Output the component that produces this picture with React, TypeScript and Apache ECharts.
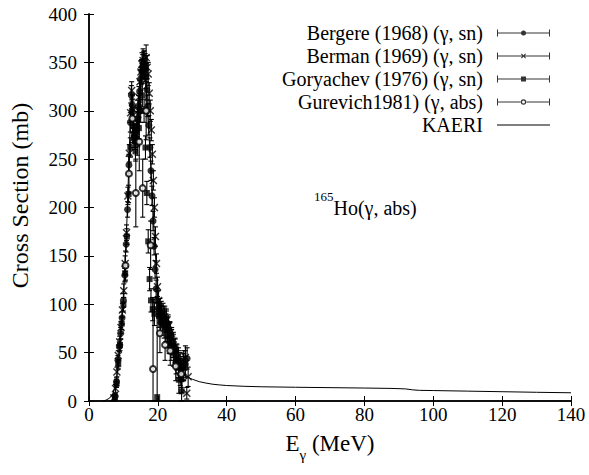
import React, { useEffect, useRef } from 'react';
import * as echarts from 'echarts';

const FONT = 'Liberation Serif';

// axis ticks
const X_TICKS = [0, 20, 40, 60, 80, 100, 120, 140];
const Y_TICKS = [0, 50, 100, 150, 200, 250, 300, 350, 400];

// series names
const NAMES = [
  'Bergere (1968) (γ, sn)',
  'Berman (1969) (γ, sn)',
  'Goryachev (1976) (γ, sn)',
  'Gurevich1981) (γ, abs)',
  'KAERI',
];

// [E (MeV), sigma (mb), error (mb)]
const BERGERE = [
  [7.6, 5, 3], [8.0, 20, 4], [8.4, 42, 5], [8.8, 56, 5], [9.2, 70, 6], [9.6, 86, 6], [10.0, 104, 7],
  [10.4, 130, 7], [10.8, 162, 8], [11.2, 198, 8], [11.6, 244, 9], [12.0, 288, 10], [12.3, 316, 10],
  [12.6, 306, 10], [12.9, 284, 10], [13.2, 276, 10], [13.5, 272, 10], [13.8, 280, 10], [14.1, 292, 11],
  [14.4, 305, 11], [14.7, 320, 11], [15.0, 333, 12], [15.3, 341, 12], [15.6, 346, 12], [15.9, 349, 12],
  [16.2, 342, 12], [16.5, 335, 12], [16.8, 322, 11], [17.1, 305, 11], [17.4, 285, 10], [17.7, 262, 10],
  [18.0, 238, 10], [18.3, 212, 10], [18.6, 186, 10], [18.9, 160, 9], [19.2, 136, 9], [19.5, 116, 9],
  [19.8, 104, 9], [20.2, 96, 9], [20.6, 91, 10], [21.0, 89, 10], [21.5, 88, 10], [22.0, 86, 10],
  [22.5, 82, 11], [23.0, 76, 11], [23.5, 70, 11], [24.0, 63, 11], [24.5, 57, 12], [25.0, 52, 12],
  [25.5, 47, 12], [26.0, 42, 13], [26.5, 37, 13], [27.0, 33, 13], [27.5, 40, 12], [28.0, 38, 14],
  [28.5, 44, 11],
];

const BERMAN = [
  [7.2, 3, 3], [7.7, 13, 4], [8.1, 30, 5], [8.5, 47, 5], [8.9, 61, 6], [9.3, 76, 6], [9.7, 94, 7],
  [10.1, 114, 7], [10.5, 142, 8], [10.9, 174, 8], [11.3, 212, 9], [11.7, 256, 9], [12.1, 298, 10],
  [12.4, 321, 9], [12.7, 302, 10], [13.0, 280, 10], [13.3, 270, 10], [13.6, 276, 10], [13.9, 288, 11],
  [14.2, 300, 11], [14.5, 314, 11], [14.8, 330, 12], [15.1, 340, 12], [15.4, 348, 12], [15.7, 352, 12],
  [16.0, 350, 12], [16.3, 346, 13], [16.6, 355, 13], [16.9, 345, 12], [17.2, 338, 12], [17.5, 318, 11],
  [17.8, 300, 11], [18.1, 280, 11], [18.4, 255, 10], [18.7, 228, 10], [19.0, 200, 10], [19.3, 170, 10],
  [19.6, 142, 10], [19.9, 118, 10], [20.2, 104, 10], [20.6, 96, 10], [21.0, 92, 11], [21.5, 90, 11],
  [22.0, 87, 11], [22.5, 83, 12], [23.0, 77, 12], [23.5, 70, 12], [24.0, 64, 12], [24.5, 58, 13],
  [25.0, 52, 13], [25.5, 45, 13], [26.0, 38, 14], [26.5, 30, 14], [27.0, 24, 15], [27.5, 35, 14],
  [28.0, 45, 12], [28.4, 8, 6], [28.8, 25, 10],
];

const GORYACHEV = [
  [7.5, 4, 3], [8.0, 18, 4], [8.5, 38, 5], [9.0, 58, 6], [9.5, 80, 6], [10.0, 100, 7], [10.5, 132, 8],
  [11.0, 170, 8], [11.5, 214, 9], [12.0, 262, 10], [12.5, 300, 10], [13.0, 272, 10], [13.5, 258, 10],
  [14.0, 265, 11], [14.5, 282, 11], [15.0, 300, 12], [15.5, 316, 12], [16.0, 300, 12], [16.4, 262, 12],
  [16.8, 215, 12], [17.2, 165, 12], [17.6, 126, 12], [18.0, 104, 12], [18.5, 95, 12], [19.0, 90, 12],
  [19.8, 4, 104], [20.3, 88, 12], [20.8, 82, 12], [21.3, 80, 12], [21.8, 78, 13], [22.3, 74, 13],
  [22.8, 68, 13], [23.3, 62, 13], [23.8, 56, 14], [24.5, 50, 14], [25.3, 42, 14], [26.1, 22, 14],
  [26.9, 10, 12],
];

const GUREVICH = [
  [10.6, 140, 15], [11.6, 235, 20], [12.6, 292, 25], [13.6, 215, 35], [14.6, 268, 30], [15.6, 220, 30],
  [16.6, 300, 30], [17.9, 161, 25], [18.6, 33, 72], [20.6, 70, 20], [22.1, 58, 16], [23.6, 52, 15],
  [25.2, 36, 15], [26.8, 28, 14],
];

// KAERI evaluation [E, sigma]
const KAERI = [
  [4, 0], [5, 1], [6, 3], [7, 8], [8, 22], [9, 55], [10, 105], [11, 185], [12, 290], [12.5, 315],
  [13, 290], [13.5, 265], [14, 270], [15, 320], [15.5, 340], [16, 345], [16.5, 330], [17, 300],
  [18, 240], [19, 170], [20, 110], [21, 88], [22, 82], [23, 72], [24, 60], [25, 50], [26, 40],
  [27, 32], [28, 26], [29, 24], [30, 22.5], [32, 20], [34, 18.5], [36, 17.3], [38, 16.6], [40, 16],
  [45, 15.2], [50, 14.7], [60, 14.2], [70, 13.8], [80, 13.4], [88, 13], [92, 12.5], [94, 11.5],
  [96, 11], [100, 10.8], [110, 10.2], [120, 9.6], [130, 9], [140, 8.5],
];

const ICONS = [
  'path://M0,0h1v7h-1z M52,0h1v7h-1z M0,3h53v1h-53z M24,3.5a2.5,2.5 0 1,1 5,0a2.5,2.5 0 1,1 -5,0z',
  'path://M0,0h1v7h-1z M52,0h1v7h-1z M0,3h53v1h-53z M24,1.7L24.7,1L26.5,2.8L28.3,1L29,1.7L27.2,3.5L29,5.3L28.3,6L26.5,4.2L24.7,6L24,5.3L25.8,3.5z',
  'path://M0,0h1v7h-1z M52,0h1v7h-1z M0,3h53v1h-53z M24,1h5v5h-5z',
  'path://M0,0h1v7h-1z M52,0h1v7h-1z M0,3h23.6v1h-23.6z M29.4,3h23.6v1h-23.6z M23.8,3.5a2.7,2.7 0 1,1 5.4,0a2.7,2.7 0 1,1 -5.4,0z M25,3.5a1.5,1.5 0 1,0 3,0a1.5,1.5 0 1,0 -3,0z',
  'path://M0,3h50v1h-50z',
];

const SYMBOL_X = 'path://M0,1L1,0L4,3L7,0L8,1L5,4L8,7L7,8L4,5L1,8L0,7L3,4z';

function errorBars(name: string, data: number[][]) {
  return {
    type: 'custom',
    name,
    data,
    silent: true,
    z: 3,
    encode: { x: 0, y: 1 },
    renderItem: (_params: any, api: any) => {
      const x = api.value(0);
      const y = api.value(1);
      const e = api.value(2);
      const top = api.coord([x, y + e]);
      const bot = api.coord([x, Math.max(0, y - e)]);
      const w = 2.5;
      const st = { stroke: '#000', lineWidth: 1.1 };
      return {
        type: 'group',
        children: [
          { type: 'line', shape: { x1: top[0], y1: top[1], x2: bot[0], y2: bot[1] }, style: st },
          { type: 'line', shape: { x1: top[0] - w, y1: top[1], x2: top[0] + w, y2: top[1] }, style: st },
          { type: 'line', shape: { x1: bot[0] - w, y1: bot[1], x2: bot[0] + w, y2: bot[1] }, style: st },
        ],
      };
    },
  };
}

function points(name: string, data: number[][], symbol: string, size: number, extra: any = {}) {
  return {
    type: 'scatter',
    name,
    data: data.map((d) => [d[0], d[1]]),
    symbol,
    symbolSize: size,
    z: 4,
    itemStyle: { color: '#000', ...extra },
  };
}

export default function App() {
  const ref = useRef<HTMLDivElement>(null);

  useEffect(() => {
    if (!ref.current) return;
    const chart = echarts.init(ref.current, null, { renderer: 'svg' });
    const axisLine = { show: true, lineStyle: { color: '#000', width: 1.5 } };
    const tick = { show: true, inside: true, length: 5, lineStyle: { color: '#000', width: 1 } };
    const xBase = {
      type: 'value',
      min: X_TICKS[0],
      max: X_TICKS[X_TICKS.length - 1],
      interval: X_TICKS[1] - X_TICKS[0],
      splitLine: { show: false },
      axisLine,
      axisTick: tick,
    };
    const yBase = {
      type: 'value',
      min: Y_TICKS[0],
      max: Y_TICKS[Y_TICKS.length - 1],
      interval: Y_TICKS[1] - Y_TICKS[0],
      splitLine: { show: false },
      axisLine,
      axisTick: tick,
    };
    const legendItemStyle = { color: '#000', borderWidth: 0 };
    chart.setOption({
      animation: false,
      backgroundColor: '#fff',
      textStyle: { fontFamily: FONT, color: '#000' },
      grid: { left: 89, right: 18, top: 14, bottom: 74, containLabel: false, outerBoundsMode: 'none' },
      xAxis: [
        {
          ...xBase,
          position: 'bottom',
          axisLabel: { color: '#000', fontFamily: FONT, fontSize: 19, margin: 4 },
          name: '{a|E}{b|γ}{a| (MeV)}',
          nameLocation: 'middle',
          nameGap: 31,
          nameTextStyle: {
            fontFamily: FONT,
            rich: {
              a: { fontFamily: FONT, fontSize: 23, color: '#000', lineHeight: 23, verticalAlign: 'top' },
              b: { fontFamily: FONT, fontSize: 15, color: '#000', lineHeight: 30, verticalAlign: 'bottom' },
            },
          },
        },
        { ...xBase, position: 'top', axisLabel: { show: false } },
      ],
      yAxis: [
        {
          ...yBase,
          position: 'left',
          axisLabel: { color: '#000', fontFamily: FONT, fontSize: 19, margin: 12 },
          name: 'Cross Section (mb)',
          nameLocation: 'middle',
          nameGap: 57,
          nameTextStyle: { fontFamily: FONT, fontSize: 24, color: '#000', padding: [0, 0, 0, 24] },
        },
        { ...yBase, position: 'right', axisLabel: { show: false } },
      ],
      legend: {
        orient: 'vertical',
        align: 'right',
        right: 39,
        top: 23,
        padding: 0,
        itemGap: 3,
        itemWidth: 53,
        itemHeight: 7,
        selectedMode: false,
        textStyle: { fontFamily: FONT, fontSize: 20, color: '#000', padding: [0, 9, 0, 0] },
        data: NAMES.map((n, i) => ({ name: n, icon: ICONS[i], itemStyle: legendItemStyle })),
      },
      graphic: [
        {
          type: 'text',
          x: 314,
          y: 204,
          style: {
            text: '{s|165}{m|Ho(γ, abs)}',
            verticalAlign: 'middle',
            rich: {
              s: { fontFamily: FONT, fontSize: 13, fill: '#000', lineHeight: 13, verticalAlign: 'top' },
              m: { fontFamily: FONT, fontSize: 20, fill: '#000', lineHeight: 28, verticalAlign: 'bottom' },
            },
          },
        },
      ],
      series: [
        {
          type: 'line',
          name: NAMES[4],
          data: KAERI,
          showSymbol: false,
          symbol: 'none',
          z: 2,
          itemStyle: { color: '#000' },
          lineStyle: { color: '#000', width: 1 },
        },
        errorBars('err-bergere', BERGERE),
        errorBars('err-berman', BERMAN),
        errorBars('err-goryachev', GORYACHEV),
        errorBars('err-gurevich', GUREVICH),
        points(NAMES[0], BERGERE, 'circle', 7),
        points(NAMES[1], BERMAN, SYMBOL_X, 8),
        points(NAMES[2], GORYACHEV, 'rect', 6),
        points(NAMES[3], GUREVICH, 'emptyCircle', 6, { borderColor: '#000', borderWidth: 1 }),
      ],
    });
    return () => chart.dispose();
  }, []);

  return (
    <div
      ref={ref}
      style={{ position: 'absolute', left: 0, top: 0, width: 589, height: 475 }}
    />
  );
}
